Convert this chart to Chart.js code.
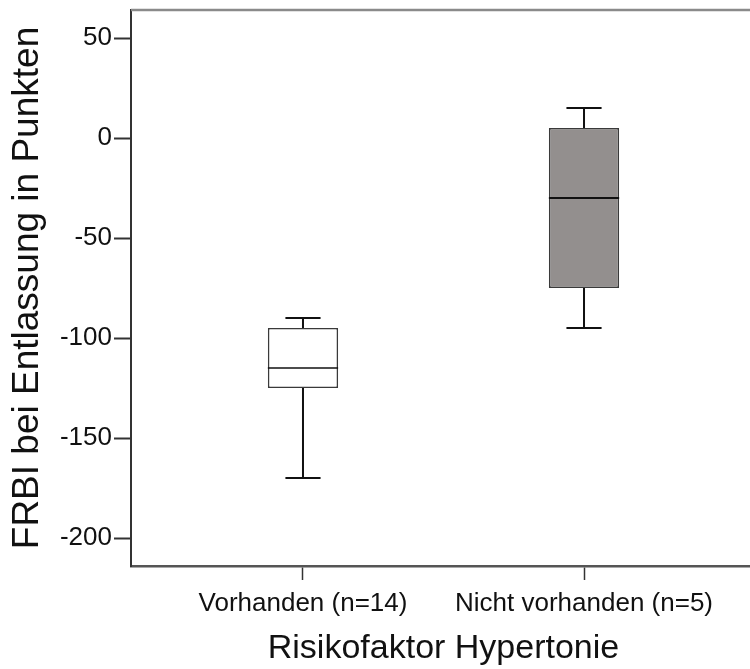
<!DOCTYPE html>
<html>
<head>
<meta charset="utf-8">
<script src="https://cdn.jsdelivr.net/npm/chart.js@4"></script>
<style>
  html, body { margin: 0; padding: 0; background: #fff; }
  .wrap { width: 750px; height: 669px; overflow: hidden; }
</style>
</head>
<body>
<div class="wrap">
  <canvas id="boxChart" width="760" height="669"></canvas>
</div>
<script>
// FRBI bei Entlassung nach Risikofaktor Hypertonie
const groups = ['Vorhanden (n=14)', 'Nicht vorhanden (n=5)'];
const whiskerLow = [-170, -95];
const q1 = [-125, -75];
const median = [-115, -30];
const q3 = [-95, 5];
const whiskerHigh = [-90, 15];
const yTicks = [-200, -150, -100, -50, 0, 50];

const boxFill = ['#ffffff', '#938f8e'];
const fontFamily = '"Liberation Sans", Arial, sans-serif';

// whiskers, caps and median lines on top of the floating bars
const whiskerPlugin = {
    id: 'whiskers',
    afterDatasetsDraw(chart) {
        const ctx = chart.ctx;
        const yScale = chart.scales.y;
        const meta = chart.getDatasetMeta(0);
        ctx.save();
        ctx.strokeStyle = '#111';
        ctx.lineCap = 'butt';
        meta.data.forEach(function (bar, i) {
            const x = bar.x;
            const half = bar.width / 2;
            const cap = half / 2;
            const yLow = yScale.getPixelForValue(whiskerLow[i]);
            const yQ1 = yScale.getPixelForValue(q1[i]);
            const yQ3 = yScale.getPixelForValue(q3[i]);
            const yHigh = yScale.getPixelForValue(whiskerHigh[i]);
            const yMed = yScale.getPixelForValue(median[i]);

            ctx.lineWidth = 2;
            ctx.beginPath();
            ctx.moveTo(x, yQ3); ctx.lineTo(x, yHigh);
            ctx.moveTo(x - cap, yHigh); ctx.lineTo(x + cap, yHigh);
            ctx.moveTo(x, yQ1); ctx.lineTo(x, yLow);
            ctx.moveTo(x - cap, yLow); ctx.lineTo(x + cap, yLow);
            ctx.stroke();

            ctx.lineWidth = i === 0 ? 1.6 : 2.2;
            ctx.beginPath();
            ctx.moveTo(x - half, yMed); ctx.lineTo(x + half, yMed);
            ctx.stroke();
        });

        // top edge of the frame
        const area = chart.chartArea;
        ctx.strokeStyle = '#8a8a8a';
        ctx.lineWidth = 2.5;
        ctx.beginPath();
        ctx.moveTo(area.left, area.top);
        ctx.lineTo(area.right, area.top);
        ctx.stroke();
        ctx.restore();
    }
};

const ctx = document.getElementById('boxChart');
const boxChart = new Chart(ctx, {
    type: 'bar',
    data: {
        datasets: [{
            data: groups.map(function (g, i) {
                return { x: i + 1, y: [q1[i], q3[i]] };
            }),
            backgroundColor: boxFill,
            borderColor: '#3a3a3a',
            borderWidth: 1.6,
            borderSkipped: false,
            categoryPercentage: 1,
            barPercentage: 0.25
        }]
    },
    options: {
        responsive: false,
        animation: false,
        layout: {
            padding: { top: 10, right: 4, bottom: 0, left: 0 }
        },
        plugins: {
            legend: { display: false },
            tooltip: { enabled: false }
        },
        scales: {
            x: {
                type: 'linear',
                offset: false,
                min: 0.388,
                max: 2.612,
                afterBuildTicks: function (axis) {
                    axis.ticks = groups.map(function (g, i) { return { value: i + 1 }; });
                },
                afterFit: function (axis) {
                    axis.height = 103;
                    axis.paddingLeft = 0;
                    axis.paddingRight = 0;
                },
                ticks: {
                    autoSkip: false,
                    maxRotation: 0,
                    padding: 8,
                    color: '#111',
                    font: { family: fontFamily, size: 26 },
                    callback: function (value) {
                        return groups[value - 1];
                    }
                },
                grid: {
                    offset: false,
                    drawOnChartArea: false,
                    drawTicks: true,
                    tickLength: 14,
                    tickWidth: 1.5,
                    tickColor: '#333'
                },
                border: { color: '#555', width: 2.5 },
                title: {
                    display: true,
                    text: 'Risikofaktor Hypertonie',
                    color: '#111',
                    font: { family: fontFamily, size: 34 },
                    padding: { top: 0, bottom: 0 }
                }
            },
            y: {
                min: -214,
                max: 64,
                afterBuildTicks: function (axis) {
                    axis.ticks = yTicks.map(function (v) { return { value: v }; });
                },
                afterFit: function (axis) {
                    axis.width = 131;
                    axis.paddingTop = 0;
                    axis.paddingBottom = 0;
                },
                ticks: {
                    padding: 2,
                    color: '#111',
                    font: { family: fontFamily, size: 26 }
                },
                grid: {
                    drawOnChartArea: false,
                    drawTicks: true,
                    tickLength: 17,
                    tickWidth: 2,
                    tickColor: '#333'
                },
                border: { color: '#333', width: 2 },
                title: {
                    display: true,
                    text: 'FRBI bei Entlassung in Punkten',
                    color: '#111',
                    font: { family: fontFamily, size: 37 },
                    padding: { top: 6, bottom: 0 }
                }
            }
        }
    },
    plugins: [whiskerPlugin]
});
</script>
</body>
</html>
